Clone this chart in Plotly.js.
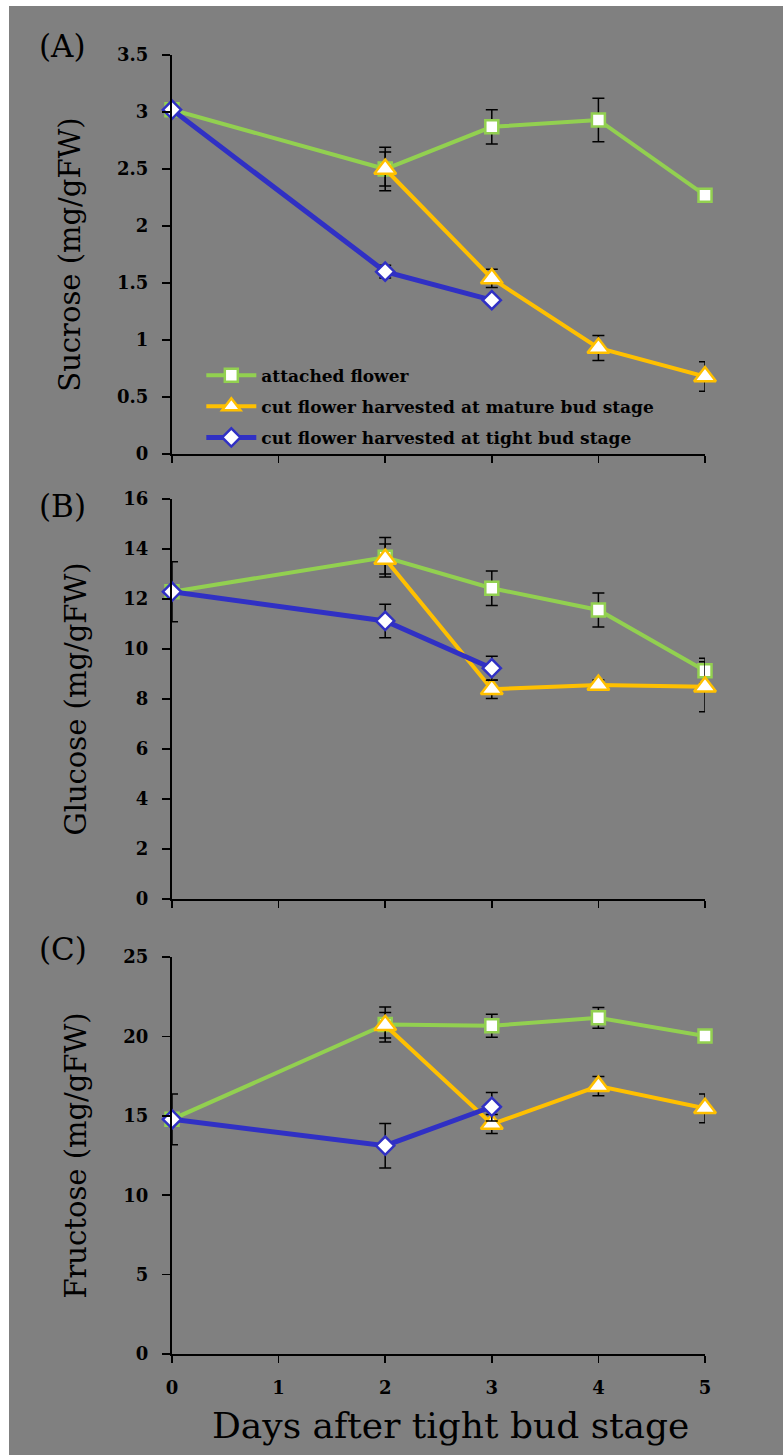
<!DOCTYPE html>
<html>
<head>
<meta charset="utf-8">
<script src="https://cdn.plot.ly/plotly-3.0.1.min.js"></script>
<style>
  html, body { margin: 0; padding: 0; background: #ffffff; }
  #chart { position: absolute; left: 9px; top: 6px; width: 774px; height: 1449px; }
</style>
</head>
<body>
<div id="chart"></div>
<script>
// ---- data ----
const days = [0, 2, 3, 4, 5];
const matureDays = [2, 3, 4, 5];
const tightDays = [0, 2, 3];

const seriesNames = [
  "attached flower",
  "cut flower harvested at mature bud stage",
  "cut flower harvested at tight bud stage"
];

// (A) Sucrose
const sucAttached = [3.02, 2.50, 2.87, 2.93, 2.27];
const sucAttachedErr = [0.03, 0.19, 0.15, 0.19, 0.03];
const sucMature = [2.50, 1.54, 0.93, 0.68];
const sucMatureErr = [0.15, 0.08, 0.11, 0.13];
const sucTight = [3.02, 1.60, 1.35];
const sucTightErr = [0.03, 0.055, 0.03];

// (B) Glucose
const gluAttached = [12.29, 13.67, 12.43, 11.56, 9.13];
const gluAttachedErr = [1.2, 0.79, 0.69, 0.68, 0.5];
const gluMature = [13.6, 8.39, 8.56, 8.49];
const gluMatureErr = [0.6, 0.37, 0.2, 1.0];
const gluTight = [12.29, 11.12, 9.23];
const gluTightErr = [0, 0.67, 0.48];

// (C) Fructose
const fruAttached = [14.78, 20.75, 20.67, 21.17, 20.02];
const fruAttachedErr = [1.6, 1.1, 0.72, 0.65, 0.2];
const fruMature = [20.7, 14.48, 16.87, 15.47];
const fruMatureErr = [0.8, 0.6, 0.6, 0.9];
const fruTight = [14.78, 13.12, 15.57];
const fruTightErr = [0, 1.4, 0.9];

const xTickVals = [0, 1, 2, 3, 4, 5];
const xTickText = ["0", "1", "2", "3", "4", "5"];
const panelLabels = ["(A)", "(B)", "(C)"];
const yTitles = ["Sucrose (mg/gFW)", "Glucose (mg/gFW)", "Fructose (mg/gFW)"];
const xTitle = "Days after tight bud stage";

// ---- styles ----
const GREEN = "#92D050", ORANGE = "#FFC000", BLUE = "#3030C4";
const serif = "DejaVu Serif, Liberation Serif, serif";

function errSpec(arr) {
  return { type: "data", array: arr, visible: true, color: "#000000", thickness: 1.5, width: 6 };
}
function mk(x, y, err, idx, panel) {
  const styles = [
    { color: GREEN, symbol: "square", size: 13 },
    { color: ORANGE, symbol: "triangle-up", size: 19 },
    { color: BLUE, symbol: "diamond", size: 14 }
  ];
  const s = styles[idx];
  const sfx = panel === 0 ? "" : String(panel + 1);
  return {
    x: x, y: y, type: "scatter", mode: "lines+markers",
    name: seriesNames[idx], legendgroup: "g" + idx,
    showlegend: panel === 0,
    xaxis: "x" + sfx, yaxis: "y" + sfx,
    cliponaxis: false,
    line: { color: s.color, width: idx === 2 ? 5 : 4 },
    marker: { symbol: s.symbol, size: s.size, color: "#ffffff", line: { color: s.color, width: 2.5 } },
    error_y: errSpec(err)
  };
}

const traces = [
  mk(days, sucAttached, sucAttachedErr, 0, 0),
  mk(matureDays, sucMature, sucMatureErr, 1, 0),
  mk(tightDays, sucTight, sucTightErr, 2, 0),
  mk(days, gluAttached, gluAttachedErr, 0, 1),
  mk(matureDays, gluMature, gluMatureErr, 1, 1),
  mk(tightDays, gluTight, gluTightErr, 2, 1),
  mk(days, fruAttached, fruAttachedErr, 0, 2),
  mk(matureDays, fruMature, fruMatureErr, 1, 2),
  mk(tightDays, fruTight, fruTightErr, 2, 2)
];

const tickFont = { family: serif, size: 18, color: "#000", weight: "bold" };

function xax(anchor, showLabels) {
  return {
    anchor: anchor, domain: [0, 1], range: [0, 5],
    tickvals: xTickVals, ticktext: xTickText,
    showticklabels: showLabels,
    ticks: "outside", ticklen: 7, tickwidth: 1.5, tickcolor: "#000",
    showline: true, linecolor: "#000", linewidth: 2,
    showgrid: false, zeroline: false,
    tickfont: tickFont,
    ticklabelstandoff: 9
  };
}
function yax(anchor, domain, range, dtick, title) {
  return {
    anchor: anchor, domain: domain, range: range, dtick: dtick, tick0: 0,
    ticks: "outside", ticklen: 8, tickwidth: 1.5, tickcolor: "#000",
    showline: true, linecolor: "#000", linewidth: 2,
    showgrid: false, zeroline: false,
    tickfont: tickFont,
    ticklabelstandoff: 10,
    title: { text: title, font: { family: serif, size: 29, color: "#000" }, standoff: 28 }
  };
}

function panelLabel(i, y) {
  return { text: panelLabels[i], xref: "paper", yref: "paper", x: -0.205, y: y,
    xanchor: "center", yanchor: "middle", showarrow: false,
    font: { family: serif, size: 31, color: "#000" } };
}

const layout = {
  width: 774, height: 1449,
  margin: { l: 163, r: 78, t: 49, b: 101 },
  paper_bgcolor: "#808080",
  plot_bgcolor: "rgba(0,0,0,0)",
  showlegend: true,
  legend: {
    x: 0.055, y: 0.767, xanchor: "left", yanchor: "top",
    bgcolor: "rgba(0,0,0,0)",
    font: { family: serif, size: 17, color: "#000", weight: "bold" },
    traceorder: "grouped", tracegroupgap: 6,
    itemwidth: 50
  },
  xaxis: xax("y", false),
  xaxis2: xax("y2", false),
  xaxis3: xax("y3", true),
  yaxis: yax("x", [0.6928, 1], [0, 3.5], 0.5, yTitles[0]),
  yaxis2: yax("x2", [0.3503, 0.6582], [0, 16], 2, yTitles[1]),
  yaxis3: yax("x3", [0, 0.3056], [0, 25], 5, yTitles[2]),
  annotations: [
    panelLabel(0, 1.007),
    panelLabel(1, 0.6528),
    panelLabel(2, 0.3118),
    { text: xTitle, xref: "paper", yref: "paper", x: 0.5216, y: -0.0547,
      xanchor: "center", yanchor: "middle", showarrow: false,
      font: { family: serif, size: 36, color: "#000" } }
  ]
};

Plotly.newPlot("chart", traces, layout, { displayModeBar: false, staticPlot: true });
</script>
</body>
</html>
